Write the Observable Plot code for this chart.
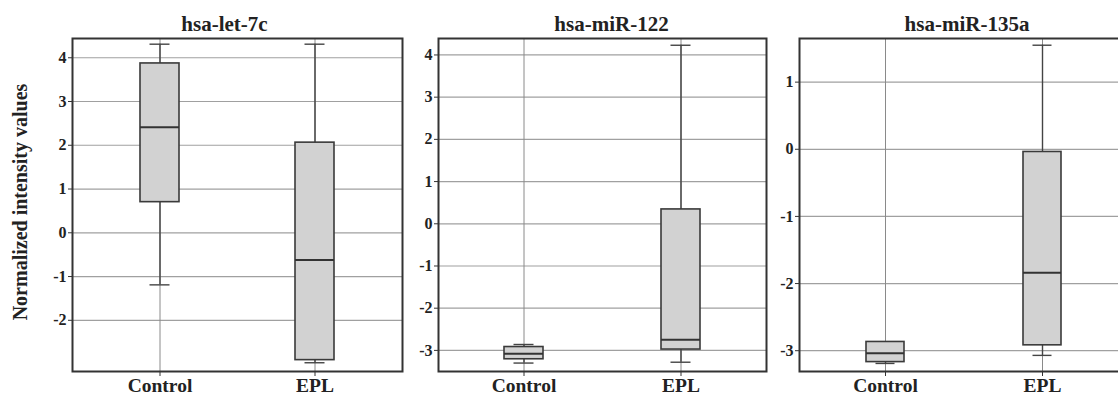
<!DOCTYPE html>
<html>
<head>
<meta charset="utf-8">
<script src="https://cdn.jsdelivr.net/npm/d3@7"></script>
<script src="https://cdn.jsdelivr.net/npm/@observablehq/plot@0.6"></script>
<style>
  html, body { margin: 0; padding: 0; background: #fff; overflow: hidden; }
  #wrap { position: relative; width: 1118px; height: 395px; overflow: hidden; background: #fff; }
  .panel { position: absolute; top: 0; }
  .panel svg { max-width: none !important; background: transparent; overflow: visible; }
</style>
</head>
<body>
<div id="wrap"></div>
<script>
// ---- data ----
const groups = ["Control", "EPL"];
const titles = ["hsa-let-7c", "hsa-miR-122", "hsa-miR-135a"];
const yLabel = "Normalized intensity values";
// five-number summaries: [min, q1, median, q3, max]
const let7cControl   = [-1.19, 0.70, 2.41, 3.87, 4.31];
const let7cEPL       = [-2.97, -2.91, -0.62, 2.06, 4.31];
const miR122Control  = [-3.30, -3.21, -3.08, -2.92, -2.86];
const miR122EPL      = [-3.28, -2.98, -2.75, 0.34, 4.23];
const miR135aControl = [-3.19, -3.17, -3.04, -2.87, -2.87];
const miR135aEPL     = [-3.07, -2.92, -1.84, -0.04, 1.55];
const let7cTicks   = [-2, -1, 0, 1, 2, 3, 4];
const miR122Ticks  = [-3, -2, -1, 0, 1, 2, 3, 4];
const miR135aTicks = [-3, -2, -1, 0, 1];

// ---- layout ----
const FONT = "'Liberation Serif', 'Times New Roman', serif";
const panels = [
  {title: titles[0], series: [let7cControl, let7cEPL], ticks: let7cTicks, domain: [-3.17, 4.44],
   left: 0, width: 404, marginLeft: 72, marginRight: 2, pi: 0.749, po: 0.436, titleDx: -13, ylabel: true},
  {title: titles[1], series: [miR122Control, miR122EPL], ticks: miR122Ticks, domain: [-3.50, 4.39],
   left: 404, width: 364, marginLeft: 34, marginRight: 2, pi: 0.752, po: 0.419, titleDx: 9, ylabel: false},
  {title: titles[2], series: [miR135aControl, miR135aEPL], ticks: miR135aTicks, domain: [-3.31, 1.65],
   left: 768, width: 362, marginLeft: 31, marginRight: 2, pi: 0.755, po: 0.425, titleDx: 3, ylabel: false}
];

const wrap = document.getElementById("wrap");
for (const p of panels) {
  const data = groups.map((g, i) => {
    const s = p.series[i];
    return {group: g, min: s[0], q1: s[1], median: s[2], q3: s[3], max: s[4]};
  });
  const marks = [
    Plot.gridY(p.ticks, {stroke: "#a0a0a0", strokeOpacity: 1, strokeWidth: 1.2}),
    Plot.gridX({stroke: "#8a8a8a", strokeOpacity: 1, strokeWidth: 1}),
    Plot.ruleX(data, {x: "group", y1: "min", y2: "max", stroke: "#444", strokeWidth: 1.4}),
    Plot.tickY(data, {x: "group", y: "min", insetLeft: 9.5, insetRight: 9.5, stroke: "#444", strokeWidth: 1.4}),
    Plot.tickY(data, {x: "group", y: "max", insetLeft: 9.5, insetRight: 9.5, stroke: "#444", strokeWidth: 1.4}),
    Plot.barY(data, {x: "group", y1: "q1", y2: "q3", fill: "#d2d2d2", stroke: "#3a3a3a", strokeWidth: 1.6}),
    Plot.tickY(data, {x: "group", y: "median", stroke: "#333", strokeWidth: 2}),
    Plot.axisY(p.ticks, {tickSize: 4, tickPadding: 2, fontSize: 16, fontWeight: "bold", fill: "#222",
      stroke: "#333", tickFormat: d => String(d), label: null}),
    Plot.axisX({tickSize: 5, tickPadding: 2, fontSize: 19.5, fontWeight: "bold", fill: "#222", stroke: "#333", label: null}),
    Plot.frame({stroke: "#333", strokeWidth: 2}),
    Plot.text([p.title], {frameAnchor: "top", lineAnchor: "bottom", dy: -8, dx: p.titleDx,
      fontSize: 21, fontWeight: "bold", fill: "#222"})
  ];
  if (p.ylabel) {
    marks.push(Plot.text([yLabel], {frameAnchor: "left", textAnchor: "middle", lineAnchor: "middle",
      rotate: -90, dx: -52, dy: -3, fontSize: 20, fontWeight: "bold", fill: "#222"}));
  }
  const chart = Plot.plot({
    width: p.width,
    height: 395,
    marginLeft: p.marginLeft,
    marginRight: p.marginRight,
    marginTop: 38,
    marginBottom: 24,
    style: {fontFamily: FONT, background: "transparent"},
    x: {domain: groups, paddingInner: p.pi, paddingOuter: p.po, axis: null},
    y: {domain: p.domain, axis: null},
    marks
  });
  const div = document.createElement("div");
  div.className = "panel";
  div.style.left = p.left + "px";
  div.style.width = p.width + "px";
  div.appendChild(chart);
  wrap.appendChild(div);
}
</script>
</body>
</html>
